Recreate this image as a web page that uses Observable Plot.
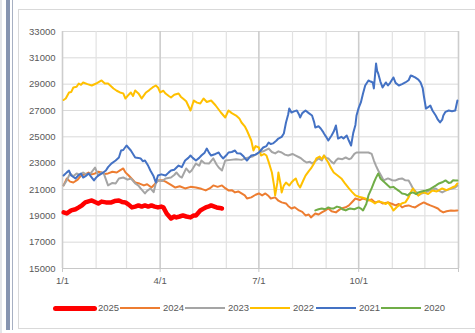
<!DOCTYPE html>
<html>
<head>
<meta charset="utf-8">
<script src="https://cdn.jsdelivr.net/npm/d3@7"></script>
<script src="https://cdn.jsdelivr.net/npm/@observablehq/plot@0.6"></script>
<style>
  html, body { margin: 0; padding: 0; background: #fff; }
  #wrap { position: relative; width: 475px; height: 333px; overflow: hidden; font-family: "Liberation Sans", Arial, sans-serif; }
  .deco { position: absolute; }
  #chart { position: absolute; left: 0; top: 0; }
  #legend { position: absolute; left: 0; top: 300px; width: 475px; height: 16px; }
  .lg-line { position: absolute; }
  .lg-text { position: absolute; font-size: 9.5px; color: #595959; line-height: 16px; top: 0; }
</style>
</head>
<body>
<div id="wrap">
  <div class="deco" style="left:0;top:0;width:2px;height:333px;background:#e4e6ea"></div>
  <div class="deco" style="left:6px;top:0;width:4px;height:330px;background:#8694b0"></div>
  <div class="deco" style="left:12px;top:0;width:1px;height:330px;background:#a7b0c2"></div>
  <div class="deco" style="left:18px;top:9px;width:470px;height:320px;border:1px solid #d9d9d9;box-sizing:border-box"></div>
  <div id="chart"></div>
  <div id="legend"></div>
</div>
<script>
// ---- data (day offset from Jan 1, value) ----
const seriesNames = ["2025", "2024", "2023", "2022", "2021", "2020"];
const seriesColors = ["#ff0000", "#ed7d31", "#a5a5a5", "#ffc000", "#4472c4", "#70ad47"];

const s2025 = [[1,19260],[4,19180],[8,19410],[12,19500],[15,19640],[18,19800],[21,20020],[24,20100],[27,20170],[30,20050],[33,19940],[36,20080],[40,20020],[45,20020],[48,20120],[52,20170],[55,20050],[58,20020],[61,19850],[64,19640],[67,19700],[70,19790],[73,19700],[76,19790],[79,19700],[82,19790],[85,19700],[88,19640],[91,19700],[93,19640],[96,19180],[100,18800],[103,18950],[105,18880],[108,18950],[111,19030],[114,18950],[118,18880],[121,19030],[123,19030],[127,19410],[130,19550],[132,19640],[135,19720],[137,19790],[140,19700],[142,19640],[145,19600],[147,19560]];

const s2024 = [[1,21310],[4,21840],[7,21600],[10,21530],[14,21750],[17,22060],[21,22150],[24,22290],[27,22150],[30,22220],[33,22350],[36,22290],[39,22180],[42,22220],[46,22350],[50,22290],[53,22450],[56,22600],[58,22300],[61,22060],[64,21800],[67,21530],[71,21450],[75,21310],[78,21400],[82,21150],[85,21400],[88,21690],[92,21700],[95,21600],[100,21350],[104,21150],[108,21250],[113,21080],[118,21200],[123,21150],[128,21050],[132,20930],[136,21100],[139,21310],[143,21200],[147,21310],[150,21100],[153,20930],[156,20950],[159,20780],[162,20850],[165,20700],[168,20550],[170,20320],[174,20400],[178,20600],[181,20700],[184,20550],[187,20700],[190,20500],[192,20320],[196,20400],[199,20150],[202,20020],[206,19940],[208,19750],[211,19560],[214,19650],[218,19410],[221,19300],[224,19030],[227,19100],[229,18880],[233,19180],[236,19100],[239,19260],[242,19400],[245,19560],[248,19350],[252,19260],[255,19450],[257,19560],[261,19650],[264,19790],[267,20050],[270,20320],[274,20200],[277,20320],[282,20170],[285,20250],[288,20020],[292,20100],[295,19940],[300,20020],[304,19900],[307,19790],[310,19900],[313,19640],[316,19750],[319,19790],[322,19700],[325,19640],[329,19850],[333,20020],[336,19900],[339,19790],[342,19700],[346,19560],[348,19400],[351,19260],[354,19350],[358,19410],[361,19380],[364,19410]];

const s2023 = [[1,21310],[4,21700],[7,22220],[10,22000],[13,22220],[16,22100],[19,22290],[22,22150],[26,22220],[30,22670],[33,22060],[36,22300],[38,22220],[42,21310],[46,21500],[49,21460],[52,21840],[56,21910],[60,21750],[63,21840],[67,21460],[70,21300],[72,21080],[76,20700],[78,20900],[81,21080],[84,20800],[86,21460],[88,21690],[92,21650],[95,21840],[100,21910],[103,22100],[105,22290],[108,22000],[110,21910],[114,22600],[117,22300],[119,22440],[123,22970],[126,22800],[128,23200],[131,23000],[135,22970],[139,23360],[142,22900],[144,22670],[147,22440],[150,23200],[155,23250],[160,23300],[165,23250],[170,23400],[175,23500],[181,23810],[185,23900],[190,24110],[193,23850],[196,23740],[199,23900],[202,23810],[205,23650],[208,23580],[212,23700],[215,23580],[218,23450],[220,23360],[223,23150],[225,23050],[228,23100],[230,22970],[233,23150],[236,23360],[239,23200],[241,23580],[243,23400],[245,23360],[248,23100],[250,22970],[252,23200],[254,23360],[258,23300],[261,23430],[264,23300],[266,23360],[269,23700],[271,23810],[277,23810],[282,23810],[285,23700],[287,23200],[289,22800],[291,22440],[294,22000],[296,21690],[300,21840],[304,21700],[307,21690],[310,21800],[313,21840],[316,21700],[319,21690],[321,21400],[323,21080],[326,20800],[328,20550],[331,20700],[335,20780],[339,20950],[344,21080],[347,20900],[350,20780],[354,20950],[359,21080],[362,21150],[364,21310]];

const s2022 = [[1,27800],[3,27910],[6,28370],[8,28400],[10,28750],[13,28800],[15,29050],[17,28950],[19,29130],[23,29000],[27,28900],[31,29050],[36,29280],[39,29050],[42,29050],[44,28900],[47,28670],[50,28500],[53,28370],[56,28300],[58,27910],[61,28200],[63,28370],[65,28100],[67,28520],[70,28300],[73,27910],[75,28150],[77,28370],[80,28550],[83,28750],[86,28900],[88,28750],[90,28370],[93,28500],[95,28290],[98,28100],[100,27990],[103,28200],[107,28290],[109,28050],[111,27910],[114,27700],[118,27000],[121,27760],[124,27600],[127,27530],[130,27910],[133,27650],[137,27760],[141,27400],[146,26850],[150,26470],[153,27000],[156,26800],[160,26620],[163,26400],[165,26090],[168,25800],[170,25480],[172,25100],[174,24720],[176,23960],[178,24300],[181,24190],[183,23580],[186,23700],[188,23580],[190,23100],[193,22290],[195,21300],[196,20550],[198,21500],[199,22290],[201,21400],[202,20780],[204,21300],[206,21530],[209,21300],[211,21530],[213,21700],[215,21840],[217,21400],[219,21150],[222,21700],[224,22060],[227,22400],[229,22600],[232,23000],[234,23360],[237,23500],[239,23300],[241,23580],[243,23300],[245,23050],[247,22700],[250,22290],[253,22100],[257,21840],[260,21500],[264,21080],[267,20800],[270,20550],[273,20450],[276,20400],[279,20320],[283,20200],[286,20050],[288,19940],[291,20100],[295,20020],[298,19900],[300,20020],[303,19700],[305,19410],[308,19650],[310,19790],[313,19950],[316,20020],[319,20400],[321,20800],[323,21080],[326,20700],[328,20550],[331,20750],[333,20780],[337,20650],[341,20930],[345,20850],[350,21080],[354,20950],[359,21150],[362,21250],[364,21460]];

const s2021 = [[1,22060],[4,22300],[6,22440],[8,22060],[10,21950],[12,21840],[15,22100],[17,22220],[19,21910],[22,22050],[24,22220],[27,21900],[29,21690],[31,21900],[33,22060],[36,22200],[40,22440],[42,22700],[45,22970],[49,23200],[52,23430],[54,23960],[56,24000],[59,24340],[61,24150],[63,23960],[65,23700],[67,23430],[70,23400],[72,23360],[74,23150],[76,23200],[79,22800],[81,22440],[84,22000],[86,21530],[88,22060],[91,22150],[95,22060],[98,22300],[100,22440],[103,22500],[107,22820],[110,22700],[113,23200],[116,23400],[118,23580],[120,23400],[123,23200],[126,23400],[128,23580],[131,23800],[133,24110],[135,23800],[137,23580],[141,23700],[144,23810],[146,23550],[148,23360],[151,23600],[153,23810],[156,23850],[159,23960],[161,23750],[164,23740],[167,23500],[170,23200],[172,23400],[174,23580],[178,23650],[181,23810],[183,24000],[185,24190],[188,24300],[190,24570],[192,24450],[194,24500],[197,24700],[199,24870],[202,25000],[204,25250],[206,26090],[208,26700],[209,27150],[211,26850],[214,26950],[216,27000],[218,26700],[219,26470],[221,26800],[224,27000],[227,26800],[230,26620],[232,26100],[233,25710],[236,25800],[238,25630],[240,25400],[241,25250],[243,25000],[245,24720],[248,25100],[250,25400],[252,25860],[254,24870],[257,25000],[259,24870],[262,25100],[264,24700],[266,24340],[268,25300],[270,25900],[271,26620],[273,27200],[275,27610],[277,28290],[279,28900],[282,29280],[284,29200],[286,29130],[287,28670],[289,30570],[290,30000],[291,29810],[293,29200],[295,28750],[298,29130],[300,28900],[302,29100],[305,29510],[307,29100],[310,28900],[313,29000],[316,29130],[319,29300],[321,29660],[323,29600],[325,29510],[328,29350],[330,29130],[332,28700],[333,28140],[335,27150],[337,27250],[339,27380],[341,27000],[344,26620],[346,26300],[348,26090],[350,26300],[351,26620],[353,26900],[356,27000],[359,26950],[362,27000],[364,27760]];

const s2020 = [[233,19410],[236,19500],[239,19560],[242,19500],[245,19640],[248,19550],[250,19560],[253,19700],[256,19640],[258,19500],[261,19410],[263,19500],[265,19560],[269,19500],[273,19640],[275,19550],[277,19410],[280,19900],[282,20550],[285,21100],[287,21530],[289,21900],[291,22220],[293,21840],[296,21600],[298,21460],[300,21300],[302,21150],[305,21200],[307,21080],[310,20900],[313,20700],[316,20650],[318,20550],[320,20700],[323,20780],[326,20650],[328,20780],[331,20850],[335,20930],[338,21000],[341,21150],[344,21300],[347,21460],[350,21550],[353,21690],[356,21500],[358,21530],[360,21700],[362,21690],[364,21690]];

const seriesData = [s2025, s2024, s2023, s2022, s2021, s2020];

const yTicks = [15000, 17000, 19000, 21000, 23000, 25000, 27000, 29000, 31000, 33000];
const xTickLabels = ["1/1", "4/1", "7/1", "10/1"];

// ---- helpers ----
const base = Date.UTC(2001, 0, 1);
const toDate = d => new Date(base + d * 86400000);
const monthStarts = d3.range(0, 13).map(m => new Date(Date.UTC(2001, m, 1)));
const quarterStarts = monthStarts.filter((d, i) => i % 3 === 0);
const minorMonths = monthStarts.filter((d, i) => i % 3 !== 0);

const rows = [];
seriesData.forEach((s, i) => s.forEach(([d, v]) => rows.push({series: seriesNames[i], date: toDate(d), value: v})));

const labelFor = d => {
  const i = quarterStarts.findIndex(q => +q === +d);
  return i >= 0 && i < xTickLabels.length ? xTickLabels[i] : "";
};

const lineMarks = seriesNames.map((name, i) =>
  Plot.line(rows.filter(r => r.series === name), {
    x: "date", y: "value",
    stroke: seriesColors[i],
    strokeWidth: name === "2025" ? 4.5 : 2,
    strokeLinejoin: "round", strokeLinecap: "round"
  })
);

const chart = Plot.plot({
  width: 475,
  height: 290,
  marginLeft: 62,
  marginRight: 17,
  marginTop: 31,
  marginBottom: 22,
  style: {fontFamily: "Liberation Sans, Arial, sans-serif", fontSize: "9.5px", color: "#595959", background: "transparent"},
  x: {type: "utc", domain: [monthStarts[0], monthStarts[12]]},
  y: {domain: [15000, 33000]},
  marks: [
    Plot.ruleY(yTicks, {stroke: "#d9d9d9", strokeWidth: 1}),
    Plot.ruleX(minorMonths, {stroke: "#e2e2e2", strokeWidth: 1.2}),
    Plot.ruleX(quarterStarts, {stroke: "#cdcdcd", strokeWidth: 1.6}),
    Plot.ruleY([15000], {stroke: "#c8c8c8", strokeWidth: 1.2}),
    Plot.axisY({ticks: yTicks, tickSize: 0, tickPadding: 7, tickFormat: d => String(d), label: null, fill: "#595959"}),
    Plot.axisX({ticks: quarterStarts, tickSize: 4, tickPadding: 5, tickFormat: labelFor, label: null, stroke: "#c8c8c8", fill: "#595959"}),
    ...lineMarks
  ]
});
document.getElementById("chart").appendChild(chart);

// ---- legend ----
const legend = document.getElementById("legend");
const lineStarts = [53, 120, 185, 250, 316, 381];
seriesNames.forEach((name, i) => {
  const thick = name === "2025";
  const len = thick ? 44 : 40;
  const h = thick ? 5 : 2;
  const ln = document.createElement("div");
  ln.className = "lg-line";
  ln.style.cssText = `left:${lineStarts[i]}px;top:${8 - h / 2}px;width:${len}px;height:${h}px;background:${seriesColors[i]};border-radius:${thick ? 3 : 0}px`;
  legend.appendChild(ln);
  const tx = document.createElement("div");
  tx.className = "lg-text";
  tx.style.left = (lineStarts[i] + len + (thick ? 1 : 3)) + "px";
  tx.textContent = name;
  legend.appendChild(tx);
});
</script>
</body>
</html>
